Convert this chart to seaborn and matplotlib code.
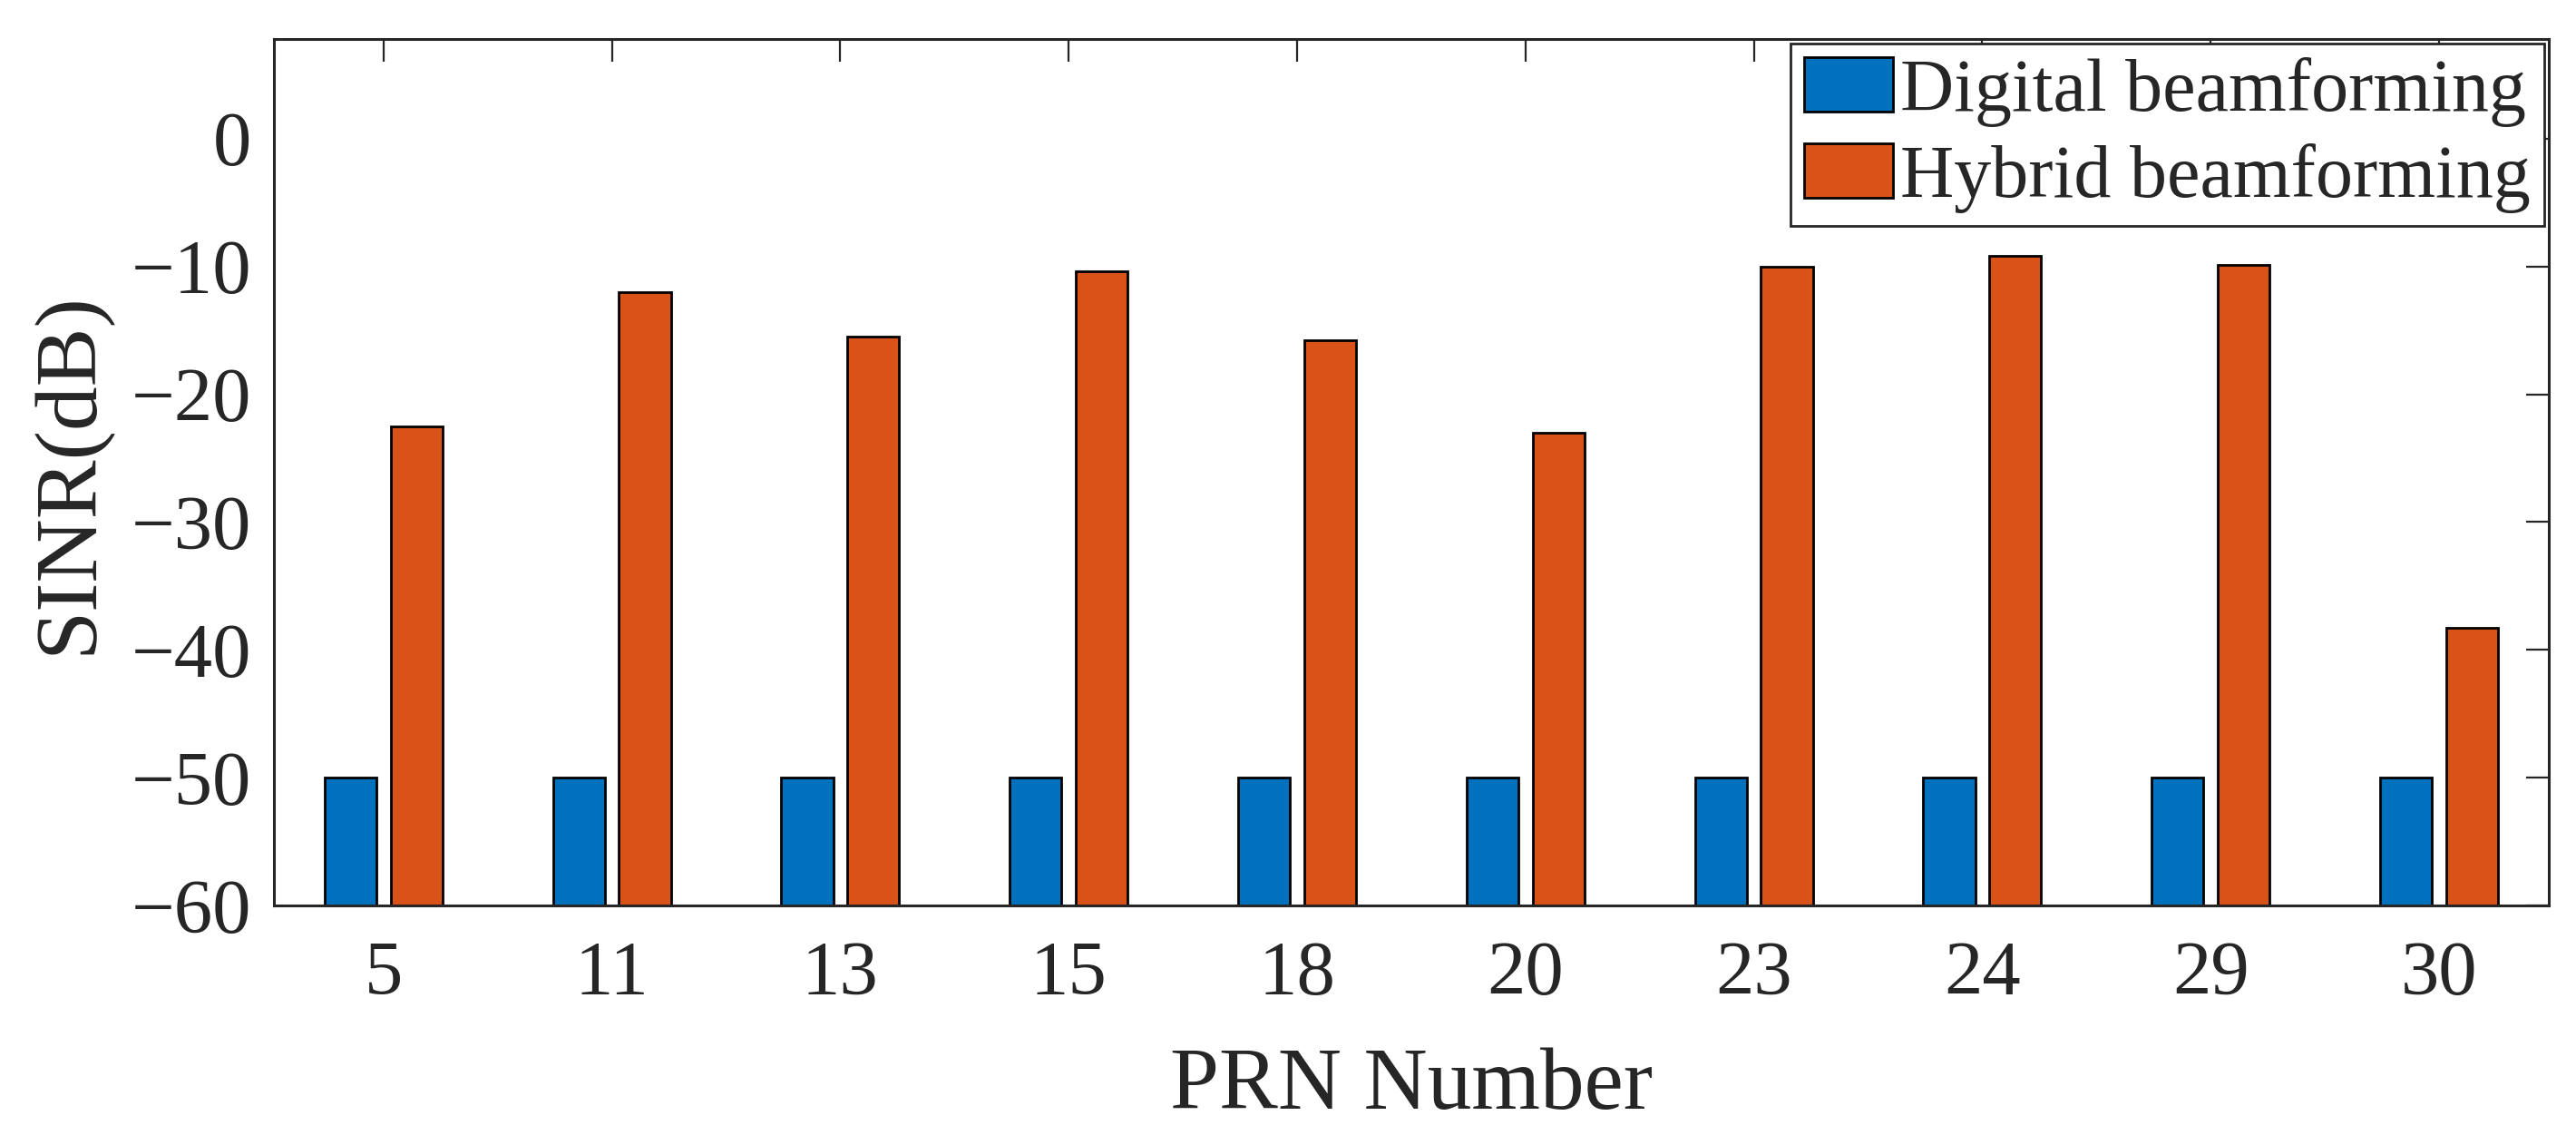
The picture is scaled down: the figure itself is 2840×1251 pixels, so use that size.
import pandas as pd
import matplotlib
matplotlib.use("Agg")
import matplotlib.pyplot as plt
from matplotlib.patches import Patch
import seaborn as sns

sns.set_theme(style='white')
plt.rcParams['font.family'] = ['Liberation Serif', 'DejaVu Serif']
plt.rcParams['axes.unicode_minus'] = True

# data
prn = ['5', '11', '13', '15', '18', '20', '23', '24', '29', '30']
digital = [-50, -50, -50, -50, -50, -50, -50, -50, -50, -50]
hybrid = [-22.5, -12.0, -15.5, -10.4, -15.8, -23.0, -10.0, -9.2, -9.9, -38.3]
methods = ['Digital beamforming', 'Hybrid beamforming']
colors = {'Digital beamforming': '#0072BD', 'Hybrid beamforming': '#D95319'}
base = -60  # bars rise from the bottom of the axis, like matlab BaseValue

df = pd.DataFrame({
    'PRN': prn * 2,
    'Method': [methods[0]] * len(prn) + [methods[1]] * len(prn),
    'SINR': digital + hybrid,
})
df['height'] = df['SINR'] - base

axcol = '#262626'
fig = plt.figure(figsize=(14.2, 6.255), dpi=200)
ax = fig.add_axes([0.1063, 0.2022, 0.8831, 0.7634])
sns.barplot(data=df, x='PRN', y='height', hue='Method', order=prn, hue_order=methods,
            palette=colors, width=0.578, gap=0.213, bottom=base, edgecolor='black',
            linewidth=1.0, saturation=1, legend=False, ax=ax)

ax.set_xlim(-0.48, 9.48)
ax.set_ylim(-60, 7.8)
ax.set_yticks(range(-60, 1, 10))
ax.tick_params(axis='both', which='both', direction='in', length=9, width=0.8,
               top=True, right=True, colors=axcol, labelsize=30.5)
ax.tick_params(axis='x', pad=14)
ax.tick_params(axis='y', pad=9)
for s in ax.spines.values():
    s.set_visible(True)
    s.set_color(axcol)
    s.set_linewidth(1.1)

ax.set_xlabel('PRN Number', fontsize=35, color=axcol, va='top')
ax.set_ylabel('SINR(dB)', fontsize=35, color=axcol)
ax.xaxis.set_label_coords(0.5, -0.164)
ax.yaxis.set_label_coords(-0.0718, 0.499)

handles = [Patch(facecolor=colors[m], edgecolor='black', linewidth=1.0) for m in methods]
ax.legend(handles, methods, loc='upper right', fontsize=29.5, frameon=True, fancybox=False,
          edgecolor=axcol, framealpha=1, handlelength=1.2, handleheight=0.74,
          handletextpad=0.1, borderpad=0.18, labelspacing=0.22, borderaxespad=0.06)
ax.get_legend().get_frame().set_linewidth(1.0)

fig.savefig('out.png', dpi=200)
